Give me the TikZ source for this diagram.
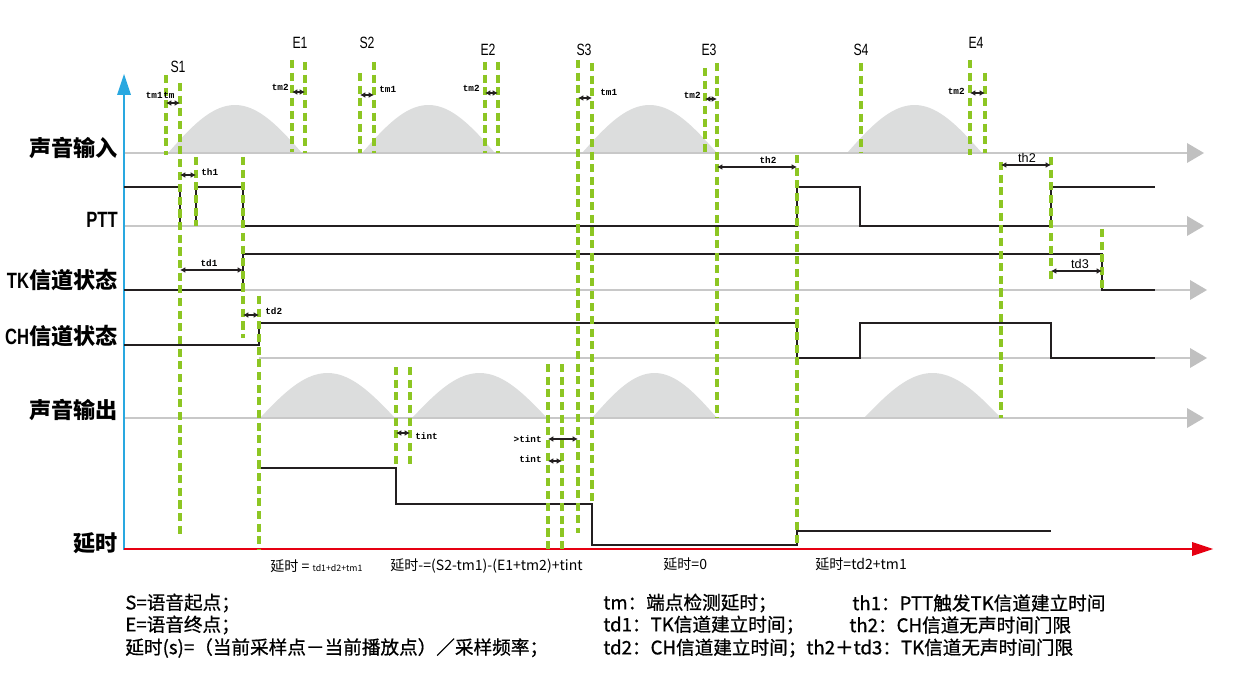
\documentclass[tikz,border=0pt]{standalone}
\usepackage{fontspec}
\setmainfont{Noto Sans CJK SC}
\newfontfamily\cjkmed[FakeBold=0.8]{Noto Sans CJK SC}
\newfontfamily\narrowfont[FakeStretch=0.75]{Liberation Sans}
\newfontfamily\lsans{Liberation Sans}
\newfontfamily\monofont{Liberation Mono}
\usetikzlibrary{arrows.meta}
\definecolor{dashgreen}{RGB}{141,198,35}
\definecolor{basegray}{RGB}{200,200,200}
\definecolor{arrowgray}{RGB}{192,192,192}
\definecolor{humpgray}{RGB}{220,221,221}
\definecolor{sigblack}{RGB}{35,31,32}
\definecolor{axisblue}{RGB}{41,168,224}
\definecolor{axisred}{RGB}{230,0,18}
\tikzset{
  sig/.style={draw=sigblack,line width=1.2pt},
  baseln/.style={draw=basegray,line width=1.2pt},
  gdash/.style={draw=dashgreen,line width=1.8pt,dash pattern=on 4.6pt off 2.6pt},
  dimarr/.style={draw=sigblack,line width=0.75pt,{Latex[length=3pt,width=3.2pt]}-{Latex[length=3pt,width=3.2pt]}},
  tinylbl/.style={font={\monofont\bfseries\fontsize{5.3}{6}\selectfont},inner sep=0pt},
  midlbl/.style={font={\lsans\fontsize{7.2}{8}\selectfont},inner sep=0pt},
  evlbl/.style={font={\narrowfont\fontsize{9.3}{11}\selectfont},inner sep=0pt},
  rowlbl/.style={font={\bfseries\fontsize{12.6}{14}\selectfont},anchor=east,inner sep=0pt},
  leg/.style={font={\cjkmed\fontsize{10.6}{12}\selectfont},anchor=west,inner sep=0pt},
  dly/.style={font={\fontsize{8}{10}\selectfont},anchor=west,inner sep=0pt},
}
\begin{document}
\begin{tikzpicture}[x=0.02cm,y=-0.02cm]
\useasboundingbox (0,0) rectangle (1240,692);
% humps
\foreach \a/\b in {168/302,362/495,582/717,847/982}
  \fill[humpgray] plot[domain=0:180,samples=40] ({\a+(\b-\a)*(\x/180)},{153-48*sin(\x)}) -- cycle;
\foreach \a/\b in {260/395,412/547,592/717,864/1001}
  \fill[humpgray] plot[domain=0:180,samples=40] ({\a+(\b-\a)*(\x/180)},{418-45*sin(\x)}) -- cycle;
% baselines with arrowheads
\foreach \y/\s/\e in {153/124/1187,226/124/1187,290/124/1190,358/259/1190,418/124/1187}{
  \draw[baseln] (\s,\y) -- (\e,\y);
  \fill[arrowgray] (\e,\y-10) -- (\e+17,\y) -- (\e,\y+10) -- cycle;
}
% axes
\draw[axisblue,line width=1.2pt] (124,550) -- (124,92);
\fill[axisblue] (117,95) -- (124,74) -- (131,95) -- cycle;
\draw[axisred,line width=1.5pt] (124,549) -- (1195,549);
\fill[axisred] (1192,542) -- (1213,549) -- (1192,556) -- cycle;
% signals
\draw[sig] (124,187) -- (180,187) -- (180,226);
\draw[sig] (196,226) -- (196,187) -- (243,187) -- (243,226) -- (797,226) -- (797,187) -- (860,187) -- (860,226) -- (1051,226) -- (1051,187) -- (1155,187);
\draw[sig] (124,290) -- (243,290) -- (243,254) -- (1102,254) -- (1102,290) -- (1155,290);
\draw[sig] (124,345) -- (259,345) -- (259,323) -- (797,323) -- (797,358) -- (860,358) -- (860,323) -- (1051,323) -- (1051,358) -- (1155,358);
\draw[sig] (259,468) -- (396,468) -- (396,504) -- (592,504) -- (592,545) -- (797,545) -- (797,531) -- (1051,531);
% green dashed markers
\foreach \x/\t/\b in {166/75/155,180/83/535,196/157/226,243/157/338,259/296/550,292/60/152,305/62/153,360/73/153,374/62/153,396/367/467,410/367/467,485/62/153,498/62/153,548/364/552,562/364/552,578/60/533,592/63/503,705/68/153,717/63/418,797/155/545,861/63/153,970/60/155,985/73/153,1001/162/418,1051/157/280,1102/229/290}
  \draw[gdash] (\x,\t) -- (\x,\b);
% dimension arrows
\draw[dimarr] (166,103) -- (180,103);
\draw[dimarr] (180,175) -- (196,175);
\draw[dimarr] (180,270) -- (243,270);
\draw[dimarr] (243,315) -- (259,315);
\draw[dimarr] (292,92) -- (305,92);
\draw[dimarr] (360,95) -- (374,95);
\draw[dimarr] (485,93) -- (498,93);
\draw[dimarr] (578,98) -- (592,98);
\draw[dimarr] (705,99) -- (717,99);
\draw[dimarr] (717,167) -- (797,167);
\draw[dimarr] (970,93) -- (985,93);
\draw[dimarr] (1001,165) -- (1051,165);
\draw[dimarr] (1051,271) -- (1102,271);
\draw[dimarr] (396,433) -- (410,433);
\draw[dimarr] (548,439) -- (578,439);
\draw[dimarr] (548,461) -- (562,461);
% event labels
\node[evlbl] (s1) at (178,67) {S1};
\node[evlbl] (e1) at (300,43) {E1};
\node[evlbl] (s2) at (367,43) {S2};
\node[evlbl] (e2) at (488,50) {E2};
\node[evlbl] (s3) at (584,50) {S3};
\node[evlbl] (e3) at (709,50) {E3};
\node[evlbl] (s4) at (861,50) {S4};
\node[evlbl] (e4) at (976,43) {E4};
% small labels
\node[tinylbl,anchor=east] (ltmone) at (163,95) {tm1};
\node[tinylbl,anchor=west] (ltm) at (163,95) {tm};
\node[tinylbl,anchor=west] (lthone) at (201,172) {th1};
\node[tinylbl] (ltdone) at (209,263) {td1};
\node[tinylbl,anchor=west] (ltdtwo) at (265,311) {td2};
\node[tinylbl,anchor=east] (ltmtwoa) at (289,87) {tm2};
\node[tinylbl,anchor=west] (ltmonea) at (379,89) {tm1};
\node[tinylbl,anchor=east] (ltmtwob) at (480,88) {tm2};
\node[tinylbl,anchor=west] (ltmoneb) at (600,92) {tm1};
\node[tinylbl,anchor=east] (ltmtwoc) at (701,95) {tm2};
\node[tinylbl] (lthtwoa) at (768,160) {th2};
\node[tinylbl,anchor=east] (ltmtwod) at (965,91) {tm2};
\node[midlbl] (lthtwob) at (1027,158) {th2};
\node[midlbl] (ltdthree) at (1080,264) {td3};
\node[tinylbl,anchor=west] (ltinta) at (415,436) {tint};
\node[tinylbl,anchor=east] (lgtint) at (542,439) {>tint};
\node[tinylbl,anchor=east] (ltintb) at (542,459) {tint};
% row labels
\node[rowlbl] (rin) at (118,148) {声音输入};
\node[rowlbl] (rptt) at (118,220) {{\narrowfont\bfseries PTT}};
\node[rowlbl] (rtk) at (118,280) {{\narrowfont\bfseries TK}信道状态};
\node[rowlbl] (rch) at (118,336) {{\narrowfont\bfseries CH}信道状态};
\node[rowlbl] (rout) at (118,410) {声音输出};
\node[rowlbl] (rdly) at (118,543) {延时};
% delay formulas
\node[dly] (fa) at (270,566) {延时 = {\fontsize{5}{6}\selectfont td1+d2+tm1}};
\node[dly] (fb) at (390,566) {延时-=(S2-tm1)-(E1+tm2)+tint};
\node[dly] (fc) at (663,564) {延时=0};
\node[dly] (fd) at (815,564) {延时=td2+tm1};
% legend
\node[leg] (la) at (125,603) {S=语音起点；};
\node[leg] (lb) at (125,625) {E=语音终点；};
\node[leg] (lc) at (125,648) {延时(s)=（当前采样点－当前播放点）／采样频率；};
\node[leg] (ld) at (603,603) {tm：端点检测延时；};
\node[leg] (le) at (852,603) {th1：PTT触发TK信道建立时间};
\node[leg] (lf) at (603,625) {td1：TK信道建立时间；};
\node[leg] (lg) at (849,625) {th2：CH信道无声时间门限};
\node[leg] (lh) at (603,648) {td2：CH信道建立时间；th2＋td3：TK信道无声时间门限};
\end{tikzpicture}
\end{document}
